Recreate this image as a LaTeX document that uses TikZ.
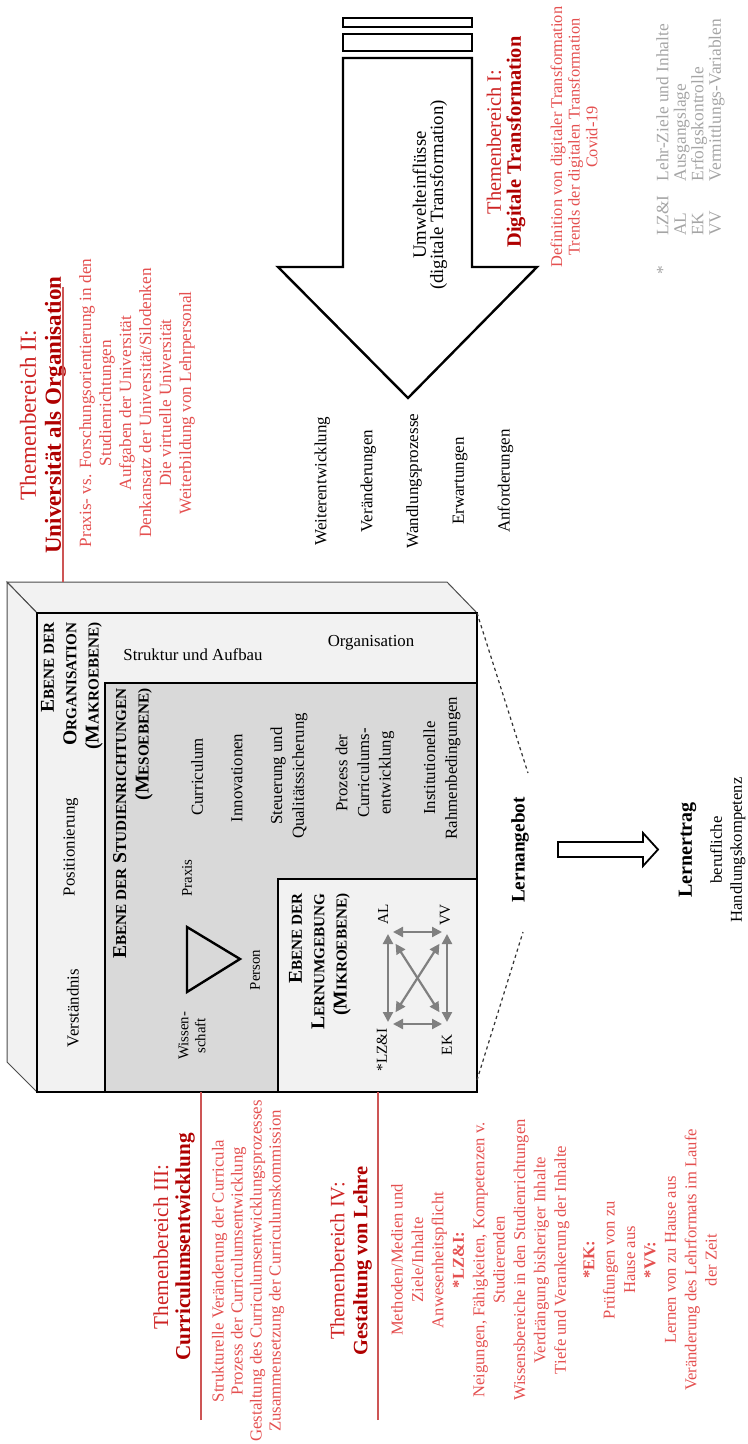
\documentclass[tikz,border=0pt]{standalone}
\usepackage{fontspec}
\setmainfont{Liberation Serif}
\usetikzlibrary{arrows.meta}

\definecolor{themared}{RGB}{205,35,35}
\definecolor{darkred}{RGB}{175,0,0}
\definecolor{itemred}{RGB}{228,80,80}
\definecolor{linered}{RGB}{205,85,85}
\definecolor{legendgrey}{RGB}{165,165,165}
\definecolor{lightfill}{RGB}{242,242,242}
\definecolor{mesofill}{RGB}{217,217,217}
\definecolor{microarrow}{RGB}{128,128,128}

\newcommand{\hsc}[2]{#1{\fontsize{7.6}{9}\selectfont#2}}
\newcommand{\themename}[1]{\textcolor{darkred}{\bfseries #1}}

\tikzset{
  vtext/.style={rotate=90, inner sep=0pt, align=center, font=\fontsize{8.4}{10.8}\selectfont},
  htext/.style={inner sep=0pt, font=\fontsize{8.4}{10.8}\selectfont},
  level head/.style={vtext, align=right, font=\bfseries\fontsize{9.8}{11.2}\selectfont},
  theme head/.style={vtext, text=themared},
  theme items/.style={vtext, text=itemred},
  theme line/.style={draw=linered, line width=0.8pt},
  heavy/.style={draw=black, line width=1.2pt, line join=miter},
  face/.style={draw=black!70, line width=0.5pt, fill=lightfill},
  level box/.style={draw=black, line width=1pt},
  link/.style={{Triangle[length=5pt,width=5pt]}-{Triangle[length=5pt,width=5pt]}, draw=microarrow, line width=1.1pt},
  funnel/.style={draw=black!80, line width=0.6pt, dash pattern=on 1.6pt off 1.6pt}
}

\begin{document}
\begin{tikzpicture}[x=0.5pt, y=-0.5pt]
\useasboundingbox (0,0) rectangle (748,1444);
\coordinate (BackNW) at (7,582);
\coordinate (BackNE) at (447,582);
\coordinate (BackSW) at (7,1062);
\coordinate (FrontNW) at (37,613);
\coordinate (FrontNE) at (477,613);
\coordinate (FrontSW) at (37,1092);
\coordinate (FrontSE) at (477,1092);

\draw[heavy, fill=white] (343,18) rectangle (472,27);
\draw[heavy, fill=white] (343,34) rectangle (472,51);
\draw[heavy, fill=white] (343,58) -- (472,58) -- (472,267) -- (537,267) -- (408,398) -- (278,267) -- (343,267) -- cycle;
\node[vtext, font=\fontsize{9.4}{8.6}\selectfont] (Umwelt) at (430,195) {Umwelteinflüsse\\(digitale Transformation)};
\node[vtext, font=\fontsize{8.5}{22.9}\selectfont] (Wandel) at (414,481) {Weiterentwicklung\\Veränderungen\\Wandlungsprozesse\\Erwartungen\\Anforderungen};

\draw[face] (BackNW) -- (BackNE) -- (FrontNE) -- (FrontNW) -- cycle;
\draw[face] (BackNW) -- (FrontNW) -- (FrontSW) -- (BackSW) -- cycle;
\draw[level box, fill=lightfill] (FrontNW) rectangle (FrontSE);
\draw[level box, fill=mesofill] (105,683) rectangle (FrontSE);
\draw[level box, fill=lightfill] (278,879) rectangle (FrontSE);

\node[level head, anchor=east] (MakroHead) at (72,622) {\hsc{E}{BENE DER}\\\hsc{O}{RGANISATION}\\\hsc{(M}{AKROEBENE)}};
\node[vtext] (Position) at (71,847) {Positionierung};
\node[vtext] (Verstand) at (73,1008) {Verständnis};
\node[htext] (Aufbau) at (193,655) {Struktur und Aufbau};
\node[htext] (OrgaText) at (371,643) {Organisation};

\node[level head, anchor=east] (MesoHead) at (133,688) {\hsc{E}{BENE DER} \hsc{S}{TUDIENRICHTUNGEN}\\\hsc{(M}{ESOEBENE)}};
\node[vtext] (Curriculum) at (197,777) {Curriculum};
\node[vtext] (Innovation) at (237,778) {Innovationen};
\node[vtext] (Steuerung) at (289,776) {Steuerung und\\Qualitätssicherung};
\node[vtext] (Prozess) at (365,773) {Prozess der\\Curriculums-\\entwicklung};
\node[vtext] (Rahmen) at (442,768) {Institutionelle\\Rahmenbedingungen};

\coordinate (TriPraxis) at (187,927);
\coordinate (TriWissen) at (187,992);
\coordinate (TriPerson) at (240,959);
\draw[heavy] (TriPraxis) -- (TriPerson) -- (TriWissen) -- cycle;
\node[vtext, font=\fontsize{7.4}{8.5}\selectfont] (Praxis) at (187,878) {Praxis};
\node[vtext, font=\fontsize{7.4}{8.5}\selectfont] (Wissen) at (192,1036) {Wissen-\\schaft};
\node[vtext, font=\fontsize{7.4}{8.5}\selectfont] (Person) at (255,970) {Person};

\node[level head, anchor=east] (MikroHead) at (320,893) {\hsc{E}{BENE DER}\\\hsc{L}{ERNUMGEBUNG}\\\hsc{(M}{IKROEBENE)}};
\coordinate (cAL) at (388,932);
\coordinate (cVV) at (447,932);
\coordinate (cLZ) at (388,1024);
\coordinate (cEK) at (447,1024);
\draw[link, shorten <=2.5pt, shorten >=2.5pt] (cAL) -- (cVV);
\draw[link, shorten <=2.5pt, shorten >=2.5pt] (cLZ) -- (cEK);
\draw[link, shorten <=1pt, shorten >=1pt] (cAL) -- (cLZ);
\draw[link, shorten <=1pt, shorten >=1pt] (cVV) -- (cEK);
\draw[link, shorten <=7pt, shorten >=7pt] (cAL) -- (cEK);
\draw[link, shorten <=7pt, shorten >=7pt] (cVV) -- (cLZ);
\node[vtext, font=\fontsize{7.6}{9}\selectfont] (ALtext) at (383,914) {AL};
\node[vtext, font=\fontsize{7.6}{9}\selectfont] (VVtext) at (445,915) {VV};
\node[vtext, font=\fontsize{7.6}{9}\selectfont] (LZtext) at (382,1050) {*LZ\&I};
\node[vtext, font=\fontsize{7.6}{9}\selectfont] (EKtext) at (447,1045) {EK};

\node[vtext, font=\bfseries\fontsize{9.6}{11}\selectfont] (Angebot) at (520,850) {Lernangebot};
\coordinate (FunnelTop) at (528,773);
\coordinate (FunnelBot) at (523,932);
\draw[funnel] (FrontNE) -- (FunnelTop);
\draw[funnel] ([yshift=6pt]FrontSE) -- (FunnelBot);
\draw[line width=0.9pt, fill=white, line join=miter] (558,842) -- (643,842) -- (643,833) -- (658,849.5) -- (643,866) -- (643,857) -- (558,857) -- cycle;
\node[vtext, font=\fontsize{8.3}{10}\selectfont] (Ertrag) at (712,850) {{\bfseries\fontsize{10}{12}\selectfont Lernertrag}\\[5pt]berufliche\\Handlungskompetenz};

\node[theme head, font=\fontsize{10.2}{10}\selectfont] (Tb1Head) at (506,142) {Themenbereich I:\\\themename{Digitale Transformation}};
\node[theme items, font=\fontsize{8.2}{8.8}\selectfont] (Tb1Items) at (574,137) {Definition von digitaler Transformation\\Trends der digitalen Transformation\\Covid-19};

\node[theme head, font=\fontsize{11.5}{12.5}\selectfont] (Tb2Head) at (43,415) {Themenbereich II:\\\themename{Universität als Organisation}};
\node[theme items, font=\fontsize{8.6}{10}\selectfont] (Tb2Items) at (137,403) {Praxis- vs. Forschungsorientierung in den\\Studienrichtungen\\Aufgaben der Universität\\Denkansatz der Universität/Silodenken\\Die virtuelle Universität\\Weiterbildung von Lehrpersonal};
\coordinate (Tb2Line) at (63,287);
\draw[theme line] (Tb2Line) -- (Tb2Line |- BackNW);

\node[theme head, font=\fontsize{10.6}{11}\selectfont] (Tb3Head) at (174,1247) {Themenbereich III:\\\themename{Curriculumsentwicklung}};
\node[theme items, font=\fontsize{8.4}{9.5}\selectfont] (Tb3Items) at (248,1271) {Strukturelle Veränderung der Curricula\\Prozess der Curriculumsentwicklung\\Gestaltung des Curriculumsentwicklungsprozesses\\Zusammensetzung der Curriculumskommission};
\coordinate (Tb3Line) at (201,1420);
\draw[theme line] (Tb3Line) -- (Tb3Line |- FrontSE);

\node[theme head, font=\fontsize{10.2}{11.5}\selectfont] (Tb4Head) at (351,1261) {Themenbereich IV:\\\themename{Gestaltung von Lehre}};
\node[theme items, font=\fontsize{8.3}{10.2}\selectfont] (Tb4Items) at (554,1260) {Methoden/Medien und\\Ziele/Inhalte\\Anwesenheitspflicht\\\textbf{*LZ\&I:}\\Neigungen, Fähigkeiten, Kompetenzen v.\\Studierenden\\Wissensbereiche in den Studienrichtungen\\Verdrängung bisheriger Inhalte\\Tiefe und Verankerung der Inhalte\\[4pt]\textbf{*EK:}\\Prüfungen von zu\\Hause aus\\\textbf{*VV:}\\Lernen von zu Hause aus\\Veränderung des Lehrformats im Laufe\\der Zeit};
\coordinate (Tb4Line) at (378,1420);
\draw[theme line] (Tb4Line) -- (Tb4Line |- FrontSE);

\node[vtext, anchor=west, text=legendgrey, font=\fontsize{8.7}{8.75}\selectfont] (Legend) at (691,275) {\begin{tabular}{@{}l@{\hspace{15pt}}l@{\hspace{7pt}}l@{}}*&LZ\&I&Lehr-Ziele und Inhalte\\&AL&Ausgangslage\\&EK&Erfolgskontrolle\\&VV&Vermittlungs-Variablen\end{tabular}};
\end{tikzpicture}
\end{document}
